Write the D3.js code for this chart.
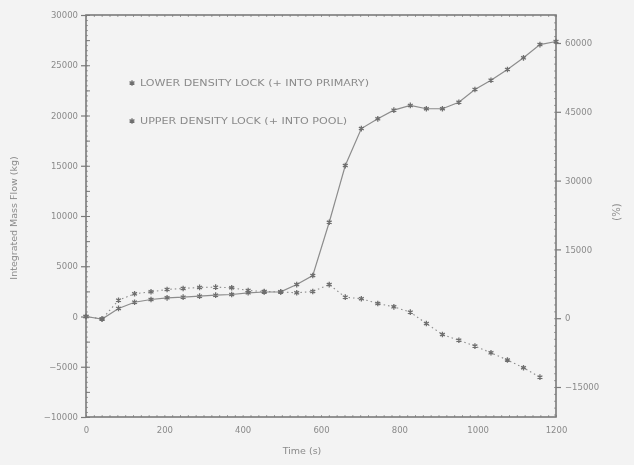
<!DOCTYPE html>
<html><head><meta charset="utf-8">
<script src="https://cdn.jsdelivr.net/npm/d3@7"></script>
<style>
html,body{margin:0;padding:0;background:#f3f3f3;}
svg{display:block;}
text{font-family:"DejaVu Sans",sans-serif;fill:#8a8a8a;}
</style></head>
<body>
<svg id="c" width="634" height="465"></svg>
<script>
// ---- data ----
const times = [0,41,83,124,166,207,248,290,331,372,414,455,497,538,579,621,662,703,745,786,828,869,910,952,993,1034,1076,1117,1159,1200];
const lowerLock = [0,-250,800,1420,1690,1860,1920,2020,2120,2190,2360,2440,2460,3180,4080,9380,15020,18700,19670,20530,21000,20670,20670,21320,22590,23510,24580,25740,27060,27360];
const upperLock = [0,-250,1620,2260,2460,2690,2790,2890,2920,2860,2590,2490,2440,2360,2490,3180,1920,1770,1290,960,430,-700,-1790,-2360,-2940,-3610,-4330,-5100,-6040];
const xTicks = [0,200,400,600,800,1000,1200];
const yLeftTicks = [-10000,-5000,0,5000,10000,15000,20000,25000,30000];
const yRightTicks = [-15000,0,15000,30000,45000,60000];
const legendLabels = ["LOWER DENSITY LOCK (+ INTO PRIMARY)","UPPER DENSITY LOCK (+ INTO POOL)"];

const svg = d3.select("#c");
const defs = svg.append("defs");
defs.append("filter").attr("id","blur").append("feGaussianBlur").attr("stdDeviation",0.6);
const g = svg.append("g").attr("filter","url(#blur)");

const L=86, R=556, T=15, B=417;
const x = d3.scaleLinear().domain([0,1200]).range([L,R]);
const yL = d3.scaleLinear().domain([-10000,30000]).range([B,T]);
const yR = d3.scaleLinear().domain([-15000,60000]).range([387,43]);

const axisCol="#7a7a7a";
// frame
g.append("rect").attr("x",L).attr("y",T).attr("width",R-L).attr("height",B-T)
 .attr("fill","none").attr("stroke",axisCol).attr("stroke-width",1.6);

// left axis
const la = g.append("g").attr("transform",`translate(${L},0)`)
 .call(d3.axisLeft(yL).tickValues(yLeftTicks).tickSize(5).tickPadding(3).tickFormat(d3.format("d")));
la.select(".domain").remove();
la.selectAll("line").attr("stroke",axisCol).attr("stroke-width",1.2);
la.selectAll("text").attr("font-size",8.5).attr("fill","#8a8a8a").attr("font-family","DejaVu Sans");
// left minor ticks (inside)
g.append("g").attr("transform",`translate(${L},0)`)
 .call(d3.axisRight(yL).tickValues(d3.range(-10000,30001,2500)).tickSize(4).tickFormat(""))
 .call(s=>{s.select(".domain").remove();s.selectAll("line").attr("stroke",axisCol);});
g.append("g").attr("transform",`translate(${L},0)`)
 .call(d3.axisRight(yL).tickValues(d3.range(-10000,30001,500)).tickSize(2).tickFormat(""))
 .call(s=>{s.select(".domain").remove();s.selectAll("line").attr("stroke",axisCol).attr("stroke-width",0.7);});

// right axis
const ra = g.append("g").attr("transform",`translate(${R},0)`)
 .call(d3.axisRight(yR).tickValues(yRightTicks).tickSize(5).tickPadding(4).tickFormat(d3.format("d")));
ra.select(".domain").remove();
ra.selectAll("line").attr("stroke",axisCol).attr("stroke-width",1.2);
ra.selectAll("text").attr("font-size",8.5).attr("fill","#8a8a8a").attr("font-family","DejaVu Sans");
g.append("g").attr("transform",`translate(${R},0)`)
 .call(d3.axisLeft(yR).tickValues(d3.range(-21000,66001,1500)).tickSize(2).tickFormat(""))
 .call(s=>{s.select(".domain").remove();s.selectAll("line").attr("stroke",axisCol).attr("stroke-width",0.7);});

// bottom axis labels
const ba = g.append("g").attr("transform",`translate(0,${B})`)
 .call(d3.axisBottom(x).tickValues(xTicks).tickSize(0).tickPadding(10).tickFormat(d3.format("d")));
ba.select(".domain").remove();
ba.selectAll("text").attr("font-size",8.5).attr("fill","#8a8a8a").attr("font-family","DejaVu Sans");
// bottom/top minor ticks
[[B,-2],[T,2]].forEach(([yy,sz])=>{
  g.append("g").attr("transform",`translate(0,${yy})`)
   .call(d3.axisBottom(x).tickValues(d3.range(0,1201,20)).tickSize(sz).tickFormat(""))
   .call(s=>{s.select(".domain").remove();s.selectAll("line").attr("stroke",axisCol).attr("stroke-width",0.7);});
});

// axis titles
g.append("text").attr("transform","translate(17,218) rotate(-90)").attr("text-anchor","middle")
 .attr("font-size",9.5).text("Integrated Mass Flow (kg)");
g.append("text").attr("transform","translate(620,212) rotate(-90)").attr("text-anchor","middle")
 .attr("font-size",10).text("(%)");
g.append("text").attr("x",302).attr("y",454).attr("text-anchor","middle")
 .attr("font-size",9.5).text("Time (s)");

const lineCol="#8c8c8c";
// series lines
const lowerPts = times.map((t,i)=>[t,lowerLock[i]]);
const upperPts = upperLock.map((v,i)=>[times[i],v]);
const line = d3.line().x(d=>x(d[0])).y(d=>yL(d[1]));
g.append("path").datum(lowerPts).attr("d",line).attr("fill","none")
 .attr("stroke",lineCol).attr("stroke-width",1.2);
g.append("path").datum(upperPts).attr("d",line).attr("fill","none")
 .attr("stroke",lineCol).attr("stroke-width",1.1).attr("stroke-dasharray","1.5,3");

// markers
const star = d3.symbol().type(d3.symbolAsterisk ? d3.symbolAsterisk : d3.symbolCross).size(22);
function drawMarkers(pts){
  g.append("g").selectAll("path").data(pts).join("path")
   .attr("transform",d=>`translate(${x(d[0])},${yL(d[1])})`)
   .attr("d",star).attr("stroke","#6e6e6e").attr("stroke-width",1.3).attr("fill","#777");
}
drawMarkers(lowerPts);
drawMarkers(upperPts);

// legend
const legY=[83,121], legLen=[229,207];
legendLabels.forEach((lab,i)=>{
  g.append("path").attr("transform",`translate(132,${legY[i]})`).attr("d",star)
   .attr("stroke","#6e6e6e").attr("stroke-width",1.3).attr("fill","#777");
  g.append("text").attr("x",140).attr("y",legY[i]+3).attr("font-size",8)
   .attr("textLength",legLen[i]).attr("lengthAdjust","spacingAndGlyphs").text(lab);
});
</script>
</body></html>
